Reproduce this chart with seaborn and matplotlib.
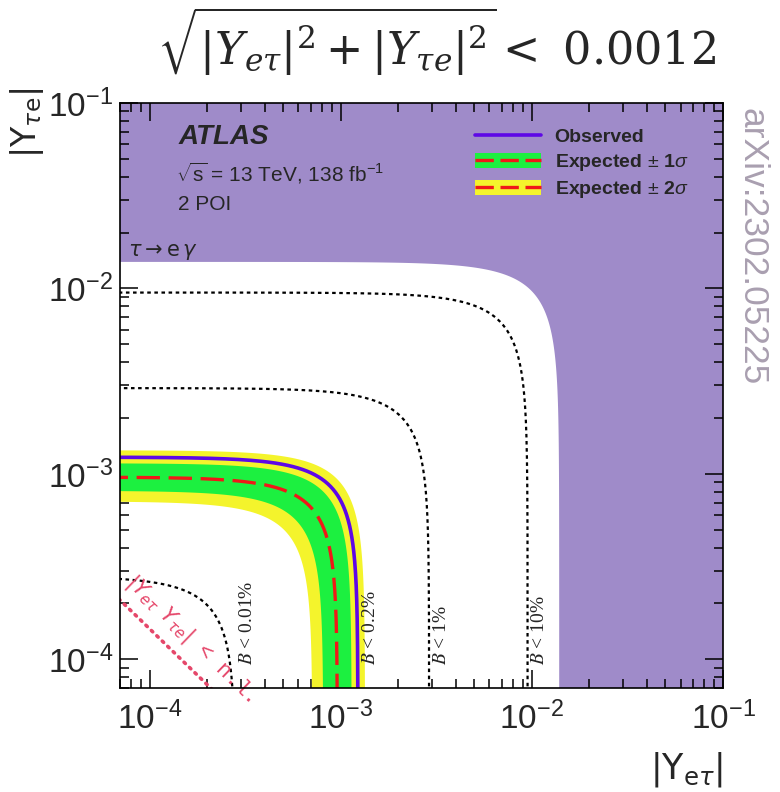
import numpy as np
import pandas as pd
import matplotlib
matplotlib.use("Agg")
import matplotlib.pyplot as plt
import seaborn as sns
from matplotlib.lines import Line2D
from matplotlib.patches import Patch
from matplotlib.ticker import LogLocator, NullFormatter

# ---------------- data ----------------
axis_min, axis_max = 7e-5, 1e-1
excluded_radius = 0.0139          # tau -> e gamma excluded region (outside)
observed_radius = 0.00123
expected_radius = 0.00096
band_1sigma = [0.00081, 0.00114]
band_2sigma = [0.00071, 0.00134]
contour_labels = ["0.01%", "0.2%", "1%", "10%"]
contour_radii = [0.00028, 0.00124, 0.0029, 0.0095]
naturalness_product = 1.46e-8     # |Y_et Y_te| < n.l.
tick_values = [1e-4, 1e-3, 1e-2, 1e-1]
tick_labels = ["$10^{-4}$", "$10^{-3}$", "$10^{-2}$", "$10^{-1}$"]

# ---------------- style ----------------
sns.set_theme(style="ticks")
plt.rcParams["font.family"] = ["Liberation Sans", "DejaVu Sans"]
plt.rcParams["mathtext.fontset"] = "custom"
plt.rcParams["mathtext.rm"] = "Liberation Sans"
plt.rcParams["mathtext.it"] = "Liberation Sans:italic"
plt.rcParams["mathtext.bf"] = "Liberation Sans:bold"

PURPLE = "#9f8bc9"
GREEN = "#1cf040"
YELLOW = "#f4f42c"
BLUE = "#5e08e6"
RED = "#f01818"
PINK = "#e5476a"

fig = plt.figure(figsize=(7.8, 7.92), dpi=100)
ax = fig.add_axes([120 / 780, 1 - 688 / 792, 603 / 780, 585 / 792])
ax.set_xscale("log")
ax.set_yscale("log")
ax.set_xlim(axis_min, axis_max)
ax.set_ylim(axis_min, axis_max)


def arc(r, n=450):
    th = np.concatenate([np.geomspace(1e-3, 0.3, n // 3),
                         np.linspace(0.3, np.pi / 2 - 0.3, n // 3),
                         np.pi / 2 - np.geomspace(0.3, 1e-3, n // 3)])
    return r * np.cos(th), r * np.sin(th)


# excluded region (outside circle)
ex, ey = arc(excluded_radius)
ax.fill(np.concatenate([ex, [ex[-1], 1.0, 1.0]]),
        np.concatenate([ey, [1.0, 1.0, ey[0]]]),
        color=PURPLE, lw=0, zorder=1)

# contour lines (dotted)
for r in contour_radii:
    cx, cy = arc(r)
    sns.lineplot(x=cx, y=cy, sort=False, estimator=None, ax=ax, color="black",
                 lw=1.6, linestyle=(0, (1.6, 1.6)), zorder=2)


def band(lo, hi, color, z):
    xo, yo = arc(hi)
    xi, yi = arc(lo)
    ax.fill(np.concatenate([xo, xi[::-1]]), np.concatenate([yo, yi[::-1]]),
            color=color, lw=0, zorder=z)


band(*band_2sigma, YELLOW, 3)
band(*band_1sigma, GREEN, 4)

ox, oy = arc(expected_radius)
sns.lineplot(x=ox, y=oy, sort=False, estimator=None, ax=ax, color=RED,
             lw=2.4, linestyle=(0, (7, 2.6)), zorder=5)
ox, oy = arc(observed_radius)
sns.lineplot(x=ox, y=oy, sort=False, estimator=None, ax=ax, color=BLUE,
             lw=2.6, zorder=6)

# naturalness line
nx = np.geomspace(1e-5, 1e-2, 50)
sns.lineplot(x=nx, y=naturalness_product / nx, sort=False, estimator=None, ax=ax,
             color=PINK, lw=2.6, linestyle=(0, (0.5, 1.6)),
             dash_capstyle="round", zorder=6)
ax.annotate(r"$|Y_{e\tau}\ Y_{\tau e}|$ < n.l.", xy=(7.2e-5, naturalness_product / 7.2e-5),
            xytext=(-2, 10), textcoords="offset points", rotation=-44,
            rotation_mode="anchor", ha="left", va="bottom", color=PINK,
            fontsize=15.5, family="Liberation Mono", math_fontfamily="dejavusans", zorder=7)

# contour labels
for lab, r in zip(contour_labels, contour_radii):
    ax.annotate(r"$B$ < " + lab, xy=(r, 9.3e-5), xytext=(2.5, 0),
                textcoords="offset points", rotation=90, ha="left", va="bottom",
                fontsize=14, family="Liberation Serif", math_fontfamily="stix",
                zorder=8)

# axes / ticks
for s in ax.spines.values():
    s.set_linewidth(1.2)
    s.set_color("black")
    s.set_zorder(10)
for axis in (ax.xaxis, ax.yaxis):
    axis.set_minor_locator(LogLocator(base=10, subs=np.arange(2, 10), numticks=20))
    axis.set_minor_formatter(NullFormatter())
ax.set_xticks(tick_values, tick_labels)
ax.set_yticks(tick_values, tick_labels)
ax.set_xlim(axis_min, axis_max)
ax.set_ylim(axis_min, axis_max)
ax.tick_params(which="both", direction="in", top=True, right=True,
               width=1.1, color="black", labelsize=24, zorder=10)
ax.tick_params(which="major", length=13)
ax.tick_params(which="minor", length=6.5)
ax.tick_params(axis="x", which="major", pad=10)
ax.tick_params(axis="y", which="major", pad=5)
ax.set_axisbelow(False)

fig.text(723 / 780, 1 - 750 / 792, r"$|\mathrm{Y}_{\mathrm{e}\tau}|$", ha="right", va="top",
         fontsize=25, math_fontfamily="dejavusans")
fig.text(27 / 780, 1 - 88 / 792, r"$|\mathrm{Y}_{\tau\mathrm{e}}|$", ha="center", va="top",
         rotation=90, fontsize=24, math_fontfamily="dejavusans")

# text block
ax.text(179 / 780, 1 - 137 / 792, "ATLAS", transform=fig.transFigure, fontsize=20,
        fontweight="bold", fontstyle="italic", va="center", ha="left", zorder=9)
ax.text(176 / 780, 1 - 173 / 792, r"$\sqrt{\mathrm{s}}$ = 13 TeV, 138 fb$^{\mathrm{-1}}$",
        transform=fig.transFigure, fontsize=15, va="center", ha="left", zorder=9)
ax.text(178 / 780, 1 - 204 / 792, "2 POI", transform=fig.transFigure, fontsize=15,
        va="center", ha="left", zorder=9)
ax.text(128 / 780, 1 - 252 / 792, r"$\tau \rightarrow \mathrm{e}\,\gamma$",
        transform=fig.transFigure, fontsize=15, va="center", ha="left", zorder=9,
        math_fontfamily="dejavusans")

# legend
h_obs = Line2D([], [], color=BLUE, lw=2.6)
h_1s = (Patch(facecolor=GREEN, lw=0), Line2D([], [], color=RED, lw=2.4, linestyle=(0, (5.5, 2))))
h_2s = (Patch(facecolor=YELLOW, lw=0), Line2D([], [], color=RED, lw=2.4, linestyle=(0, (5.5, 2))))
leg = ax.legend([h_obs, h_1s, h_2s], ["Observed", r"Expected $\pm$ 1$\sigma$", r"Expected $\pm$ 2$\sigma$"],
                loc="upper left", bbox_to_anchor=((475 - 120) / 603, (688 - 128) / 585),
                frameon=False, handlelength=3.4, handleheight=0.85, handletextpad=0.7,
                labelspacing=0.3, prop={"weight": "bold", "size": 14}, borderaxespad=0,
                borderpad=0)
leg.set_zorder(9)

# title
fig.text(0.56, 1 - 42 / 792, r"$\sqrt{|Y_{e\tau}|^2 + |Y_{\tau e}|^2} <\ 0.0012$",
         ha="center", va="center", fontsize=32, math_fontfamily="dejavuserif")

fig.text(752 / 780, 1 - 108 / 792, "arXiv:2302.05225", rotation=270, ha="center", va="top",
         fontsize=25.5, color="#a99fb0")

fig.savefig("out.png", dpi=100)
